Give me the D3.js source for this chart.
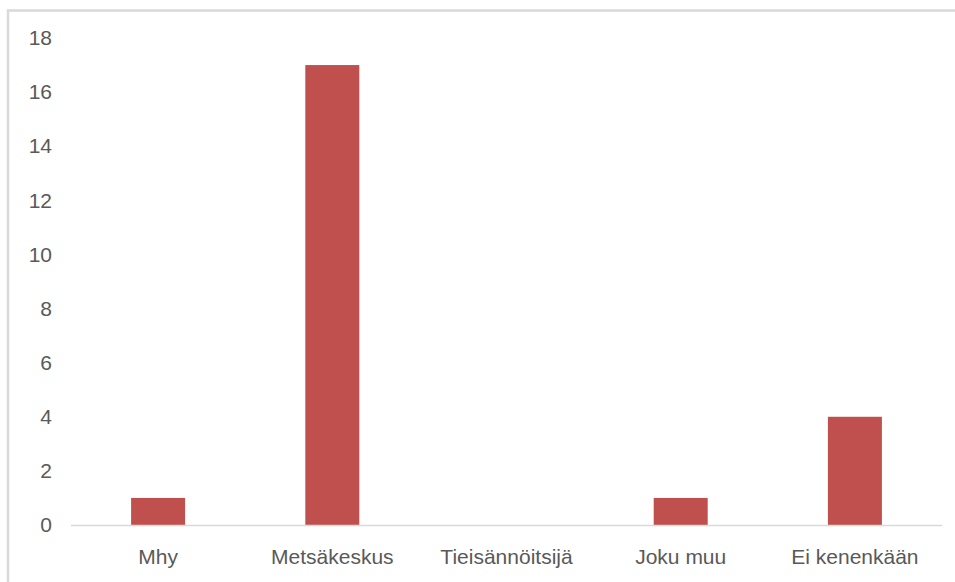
<!DOCTYPE html>
<html>
<head>
<meta charset="utf-8">
<script src="https://cdn.jsdelivr.net/npm/d3@7"></script>
<style>
  html, body { margin: 0; padding: 0; background: #fff; }
  svg { display: block; }
</style>
</head>
<body>
<svg id="chart" width="955" height="582"></svg>
<script>
const categories = ["Mhy", "Metsäkeskus", "Tieisännöitsijä", "Joku muu", "Ei kenenkään"];
const values = [1, 17, 0, 1, 4];
const yTicks = [0, 2, 4, 6, 8, 10, 12, 14, 16, 18];

const svg = d3.select("#chart");
const W = 955, H = 582;
const plot = { left: 71, right: 942, top: 38, bottom: 525 };
const font = "'Liberation Sans', Arial, sans-serif";
const textColor = "#595959";

// Outer chart border (clipped at the right and bottom of the picture)
svg.append("rect")
  .attr("x", 8).attr("y", 10.5)
  .attr("width", W + 10).attr("height", H + 10)
  .attr("fill", "none").attr("stroke", "#d9d9d9").attr("stroke-width", 2.5);

const x = d3.scaleBand().domain(categories).range([plot.left, plot.right]).paddingInner(0.69).paddingOuter(0.345);
const y = d3.scaleLinear().domain([0, 18]).range([plot.bottom, plot.top]);

// Bars
svg.append("g").selectAll("rect").data(categories).join("rect")
  .attr("x", d => x(d))
  .attr("y", (d, i) => y(values[i]))
  .attr("width", x.bandwidth())
  .attr("height", (d, i) => y(0) - y(values[i]))
  .attr("fill", "#C0504D");

// Baseline
svg.append("line")
  .attr("x1", plot.left).attr("x2", plot.right)
  .attr("y1", y(0) + 0.5).attr("y2", y(0) + 0.5)
  .attr("stroke", "#d9d9d9").attr("stroke-width", 1.5);

// Y axis labels
const yAxis = d3.axisLeft(y).tickValues(yTicks).tickSize(0).tickPadding(0);
const gy = svg.append("g").attr("transform", "translate(52,0)").call(yAxis);
gy.select(".domain").remove();
gy.selectAll("text").attr("font-family", font).attr("font-size", 21).attr("fill", textColor);

// X axis labels
const xAxis = d3.axisBottom(x).tickSize(0).tickPadding(0);
const gx = svg.append("g").attr("transform", `translate(0,${plot.bottom + 24})`).call(xAxis);
gx.select(".domain").remove();
gx.selectAll("text").attr("font-family", font).attr("font-size", 21).attr("fill", textColor);
</script>
</body>
</html>
